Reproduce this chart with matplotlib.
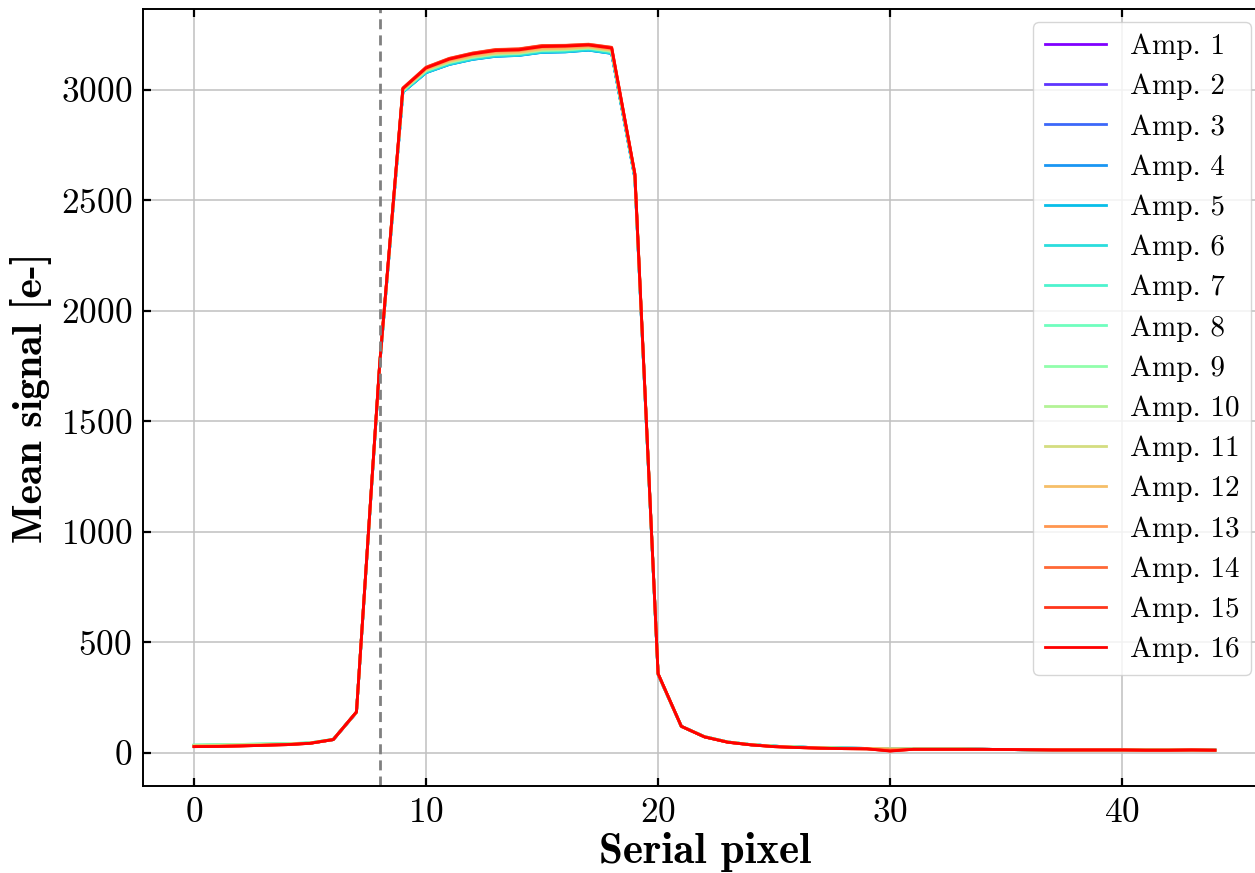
import matplotlib
matplotlib.use("Agg")
import matplotlib.pyplot as plt
import numpy as np

# ---------------- data ----------------
serial_pixel = list(range(45))

amp1 = [31, 33, 35, 37, 39, 44, 60, 183, 1752,
        2992, 3080, 3117, 3140, 3154, 3158, 3172, 3174, 3182, 3167, 2605,
        355, 120, 73, 49, 37, 30, 26, 23, 21, 20, 17, 17, 17, 17, 16, 15, 14, 14, 13, 13, 13, 13, 13, 13, 12]
amp2 = [31, 33, 35, 37, 39, 44, 60, 183, 1753,
        2991, 3079, 3116, 3139, 3153, 3157, 3171, 3173, 3181, 3166, 2604,
        355, 120, 73, 49, 37, 30, 26, 23, 21, 20, 17, 17, 17, 17, 16, 15, 14, 14, 13, 13, 13, 13, 13, 13, 12]
amp3 = [32, 34, 36, 38, 39, 44, 60, 183, 1751,
        2990, 3078, 3115, 3138, 3152, 3156, 3170, 3172, 3180, 3165, 2602,
        355, 120, 73, 49, 37, 30, 26, 23, 21, 20, 17, 17, 17, 17, 16, 15, 14, 14, 13, 13, 13, 13, 13, 13, 12]
amp4 = [32, 34, 36, 38, 39, 44, 60, 183, 1750,
        2989, 3077, 3114, 3137, 3151, 3155, 3169, 3171, 3179, 3164, 2600,
        355, 120, 73, 49, 37, 30, 26, 23, 21, 20, 17, 17, 17, 17, 16, 15, 14, 14, 13, 13, 13, 13, 13, 13, 12]
amp5 = [33, 35, 37, 38, 40, 44, 60, 183, 1750,
        2989, 3077, 3114, 3137, 3151, 3155, 3169, 3171, 3179, 3164, 2600,
        355, 120, 73, 49, 37, 30, 26, 23, 21, 20, 17, 17, 17, 17, 16, 15, 14, 14, 13, 13, 13, 13, 13, 13, 12]
amp6 = [33, 35, 37, 38, 40, 44, 61, 184, 1752,
        2990, 3079, 3116, 3139, 3153, 3157, 3171, 3173, 3181, 3166, 2603,
        355, 120, 73, 49, 37, 30, 26, 23, 21, 20, 17, 17, 17, 17, 16, 15, 14, 14, 13, 13, 13, 13, 13, 13, 12]
amp7 = [35, 36, 38, 40, 41, 45, 61, 184, 1755,
        2995, 3085, 3122, 3145, 3159, 3163, 3177, 3179, 3187, 3172, 2608,
        356, 120, 73, 49, 37, 30, 26, 23, 21, 20, 17, 17, 17, 17, 16, 15, 14, 14, 13, 13, 13, 13, 13, 13, 12]
amp8 = [35, 36, 38, 40, 41, 45, 61, 184, 1755,
        2996, 3086, 3123, 3146, 3160, 3164, 3178, 3180, 3188, 3173, 2609,
        356, 120, 73, 49, 37, 30, 26, 23, 21, 20, 17, 17, 17, 17, 16, 15, 14, 14, 13, 13, 13, 13, 13, 13, 12]
amp9 = [34, 36, 38, 39, 41, 45, 61, 184, 1756,
        2997, 3087, 3124, 3147, 3161, 3165, 3179, 3181, 3189, 3174, 2610,
        356, 120, 73, 49, 37, 30, 26, 23, 21, 20, 17, 17, 17, 17, 16, 15, 14, 14, 13, 13, 13, 13, 13, 13, 12]
amp10 = [34, 35, 37, 39, 40, 44, 61, 184, 1756,
         2998, 3088, 3125, 3148, 3162, 3166, 3180, 3182, 3190, 3175, 2611,
         356, 120, 73, 49, 37, 30, 26, 23, 21, 20, 17, 17, 17, 17, 16, 15, 14, 14, 13, 13, 13, 13, 13, 13, 12]
amp11 = [32, 33, 35, 37, 39, 44, 60, 184, 1757,
         3000, 3090, 3128, 3151, 3165, 3169, 3183, 3185, 3192, 3178, 2612,
         357, 120, 73, 49, 37, 29, 25, 22, 20, 19, 17, 17, 17, 17, 16, 15, 14, 14, 13, 13, 13, 13, 13, 13, 12]
amp12 = [31, 32, 34, 36, 38, 44, 60, 184, 1757,
         3001, 3092, 3130, 3153, 3167, 3171, 3185, 3187, 3194, 3180, 2614,
         357, 120, 73, 49, 37, 29, 25, 22, 20, 19, 17, 17, 17, 17, 16, 15, 14, 14, 13, 13, 13, 13, 13, 13, 12]
amp13 = [29, 30, 32, 35, 38, 43, 60, 185, 1758,
         3004, 3096, 3135, 3159, 3174, 3177, 3192, 3194, 3199, 3185, 2616,
         357, 120, 72, 48, 36, 28, 24, 21, 19, 18, 16, 16, 16, 16, 16, 15, 14, 13, 13, 13, 13, 12, 12, 13, 12]
amp14 = [28, 29, 31, 34, 37, 43, 60, 185, 1760,
         3008, 3102, 3142, 3166, 3182, 3185, 3200, 3201, 3206, 3192, 2620,
         358, 120, 72, 48, 36, 28, 24, 21, 19, 18, 9, 16, 16, 16, 16, 15, 14, 13, 13, 13, 13, 12, 12, 13, 12]
amp15 = [28, 29, 31, 34, 37, 43, 60, 185, 1760,
         3007, 3101, 3141, 3165, 3181, 3184, 3199, 3200, 3205, 3191, 2619,
         358, 120, 72, 48, 36, 28, 24, 21, 19, 18, 9, 16, 16, 16, 16, 15, 14, 13, 13, 13, 13, 12, 12, 13, 12]
amp16 = [28, 29, 31, 34, 37, 43, 60, 185, 1760,
         3005, 3098, 3138, 3162, 3177, 3180, 3195, 3197, 3202, 3188, 2618,
         358, 120, 72, 48, 36, 28, 24, 21, 19, 18, 8, 16, 16, 16, 16, 15, 14, 13, 13, 13, 13, 12, 12, 13, 12]

amps = [amp1, amp2, amp3, amp4, amp5, amp6, amp7, amp8,
        amp9, amp10, amp11, amp12, amp13, amp14, amp15, amp16]
amp_labels = [f"Amp. {i}" for i in range(1, 17)]
prescan_edge = 8
x_ticks = [0, 10, 20, 30, 40]
y_ticks = [0, 500, 1000, 1500, 2000, 2500, 3000]

# ---------------- style ----------------
plt.rcParams["font.family"] = ["cmr10", "DejaVu Serif"]
plt.rcParams["axes.formatter.use_mathtext"] = True
plt.rcParams["mathtext.fontset"] = "cm"

W, H = 1255, 873
fig = plt.figure(figsize=(W / 100, H / 100), dpi=100)
ax_left, ax_right, ax_top, ax_bottom = 143, 1266, 9, 786
ax = fig.add_axes([ax_left / W, (H - ax_bottom) / H,
                   (ax_right - ax_left) / W, (ax_bottom - ax_top) / H])

colors = plt.cm.rainbow(np.linspace(0, 1, len(amps)))
for vals, lab, c in zip(amps, amp_labels, colors):
    ax.plot(serial_pixel, vals, color=c, lw=2.0, label=lab)

ax.axvline(prescan_edge, color="#808080", ls="--", lw=2.0, dashes=(3.6, 2.2))

ax.set_xlim(-2.2, 46.2)
ax.set_ylim(-150, 3365)
ax.set_xticks(x_ticks)
ax.set_yticks(y_ticks)
ax.grid(True, color="#c0c0c0", lw=1.1)
ax.set_axisbelow(True)

ax.tick_params(direction="in", top=True, right=True, length=6, width=1.6,
               labelsize=25.5, pad=8)
for sp in ax.spines.values():
    sp.set_linewidth(1.4)

ax.set_xlabel("Serial pixel", fontsize=31, family=["cmb10", "DejaVu Serif"], labelpad=2)
ax.set_ylabel("Mean signal [e-]", fontsize=30, family=["cmb10", "DejaVu Serif"], labelpad=6)

leg = ax.legend(loc="upper right", bbox_to_anchor=(1251 / W, (H - 22) / H),
                bbox_transform=fig.transFigure, borderaxespad=0,
                fontsize=21, handlelength=2.1, handletextpad=0.8,
                labelspacing=0.47, framealpha=0.8, fancybox=True)
leg.get_frame().set_edgecolor("#cccccc")

fig.savefig("out.png", dpi=100)
